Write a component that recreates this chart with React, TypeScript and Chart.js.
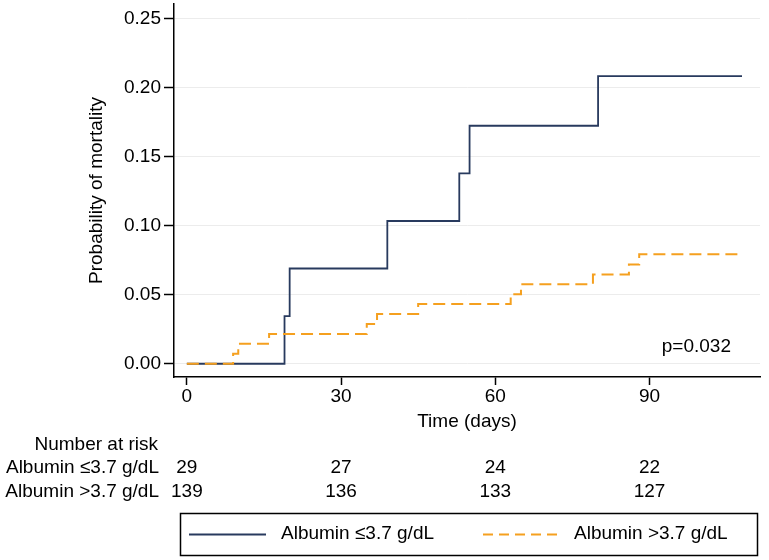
import React, { useEffect, useRef } from "react";
import { Chart, registerables } from "chart.js";

Chart.register(...registerables);

// ---- data ----
const lowTimes = [0, 19, 20, 39, 53, 55, 80, 108];
const lowProb = [0, 0.0345, 0.069, 0.1034, 0.1379, 0.1724, 0.2083, 0.2083];
const highTimes = [0, 9, 10, 16, 35, 37, 45, 63, 65, 79, 86, 88, 108];
const highProb = [0, 0.0072, 0.0144, 0.0216, 0.0288, 0.036, 0.0432, 0.0504, 0.0576, 0.0647, 0.0719, 0.0793, 0.0793];
const xTicks = [0, 30, 60, 90];
const yTicks = [0, 0.05, 0.1, 0.15, 0.2, 0.25];
const riskLow = [29, 27, 24, 22];
const riskHigh = [139, 136, 133, 127];
const seriesLabels = ["Albumin \u22643.7 g/dL", "Albumin >3.7 g/dL"];
const riskTitle = "Number at risk";
const pValueText = "p=0.032";
const xTitle = "Time (days)";
const yTitle = "Probability of mortality";

const FONT = '"Liberation Sans", Arial, Helvetica, sans-serif';
const BLUE = "#283a5e";
const ORANGE = "#f5a01f";

const extrasPlugin = {
  id: "kmExtras",
  afterDraw(chart: any) {
    const ctx = chart.ctx;
    const xs = chart.scales.x;
    ctx.save();
    ctx.fillStyle = "#000";
    ctx.font = `19px ${FONT}`;
    ctx.textBaseline = "middle";
    // number at risk table
    ctx.textAlign = "right";
    ctx.fillText(riskTitle, 158, 445);
    ctx.fillText(seriesLabels[0], 159, 468);
    ctx.fillText(seriesLabels[1], 159, 492);
    ctx.textAlign = "center";
    xTicks.forEach((t, i) => {
      const px = xs.getPixelForValue(t);
      ctx.fillText(String(riskLow[i]), px, 468);
      ctx.fillText(String(riskHigh[i]), px, 492);
    });
    // p-value
    ctx.textAlign = "right";
    ctx.fillText(pValueText, 731, 347);
    // legend box
    ctx.strokeStyle = "#000";
    ctx.lineWidth = 1.5;
    ctx.strokeRect(180.5, 513.5, 577, 42);
    ctx.lineWidth = 1.8;
    ctx.strokeStyle = BLUE;
    ctx.beginPath();
    ctx.moveTo(189, 534.5);
    ctx.lineTo(266, 534.5);
    ctx.stroke();
    ctx.strokeStyle = ORANGE;
    ctx.lineWidth = 2;
    ctx.setLineDash([10, 6]);
    ctx.beginPath();
    ctx.moveTo(483, 534.5);
    ctx.lineTo(560, 534.5);
    ctx.stroke();
    ctx.setLineDash([]);
    ctx.textAlign = "left";
    ctx.fillText(seriesLabels[0], 281, 534);
    ctx.fillText(seriesLabels[1], 574, 534);
    ctx.restore();
  },
};

export default function App() {
  const ref = useRef<HTMLCanvasElement | null>(null);
  useEffect(() => {
    document.body.style.margin = "0";
    const canvas = ref.current;
    if (!canvas) return;
    const chart = new Chart(canvas, {
      type: "line",
      data: {
        datasets: [
          {
            label: seriesLabels[0],
            data: lowTimes.map((t, i) => ({ x: t, y: lowProb[i] })),
            borderColor: BLUE,
            borderWidth: 1.8,
            pointRadius: 0,
            stepped: "before",
            fill: false,
            order: 1,
          },
          {
            label: seriesLabels[1],
            data: highTimes.map((t, i) => ({ x: t, y: highProb[i] })),
            borderColor: ORANGE,
            borderWidth: 2,
            borderDash: [12, 6],
            pointRadius: 0,
            stepped: "before",
            fill: false,
            order: 0,
          },
        ],
      },
      options: {
        animation: false,
        responsive: false,
        devicePixelRatio: 1,
        layout: { padding: { left: 0, right: 9, top: 4, bottom: 123 } },
        plugins: { legend: { display: false }, tooltip: { enabled: false } },
        scales: {
          x: {
            type: "linear",
            min: -2.5,
            max: 111.5,
            afterBuildTicks: (s: any) => {
              s.ticks = xTicks.map((v) => ({ value: v }));
            },
            afterFit: (s: any) => {
              s.height = 60;
              s.paddingLeft = 0;
              s.paddingRight = 0;
            },
            ticks: {
              color: "#000",
              font: { family: FONT, size: 19 },
              padding: 0,
              maxRotation: 0,
              autoSkip: false,
              callback: (v: any) => String(v),
            },
            grid: {
              drawOnChartArea: false,
              tickLength: 8,
              tickColor: "#000",
              tickWidth: 1.5,
            },
            border: { display: true, color: "#000", width: 1.5 },
            title: {
              display: true,
              text: xTitle,
              color: "#000",
              font: { family: FONT, size: 19 },
              padding: { top: 0, bottom: 3.6 },
            },
          },
          y: {
            type: "linear",
            min: -0.0096,
            max: 0.2606,
            afterBuildTicks: (s: any) => {
              s.ticks = yTicks.map((v) => ({ value: v }));
            },
            afterFit: (s: any) => {
              s.width = 174;
              s.paddingTop = 0;
              s.paddingBottom = 0;
            },
            ticks: {
              color: "#000",
              font: { family: FONT, size: 19 },
              padding: 3,
              autoSkip: false,
              callback: (v: any) => Number(v).toFixed(2),
            },
            grid: {
              color: "#ececec",
              lineWidth: 1,
              tickLength: 10,
              tickColor: "#000",
              tickWidth: 1.5,
            },
            border: { display: true, color: "#000", width: 1.5 },
            title: {
              display: true,
              text: yTitle,
              color: "#000",
              font: { family: FONT, size: 19 },
              padding: { top: 85.6, bottom: 0 },
            },
          },
        },
      },
      plugins: [extrasPlugin],
    } as any);
    return () => chart.destroy();
  }, []);
  return (
    <div style={{ width: 769, height: 560 }}>
      <canvas ref={ref} width={769} height={560} />
    </div>
  );
}
